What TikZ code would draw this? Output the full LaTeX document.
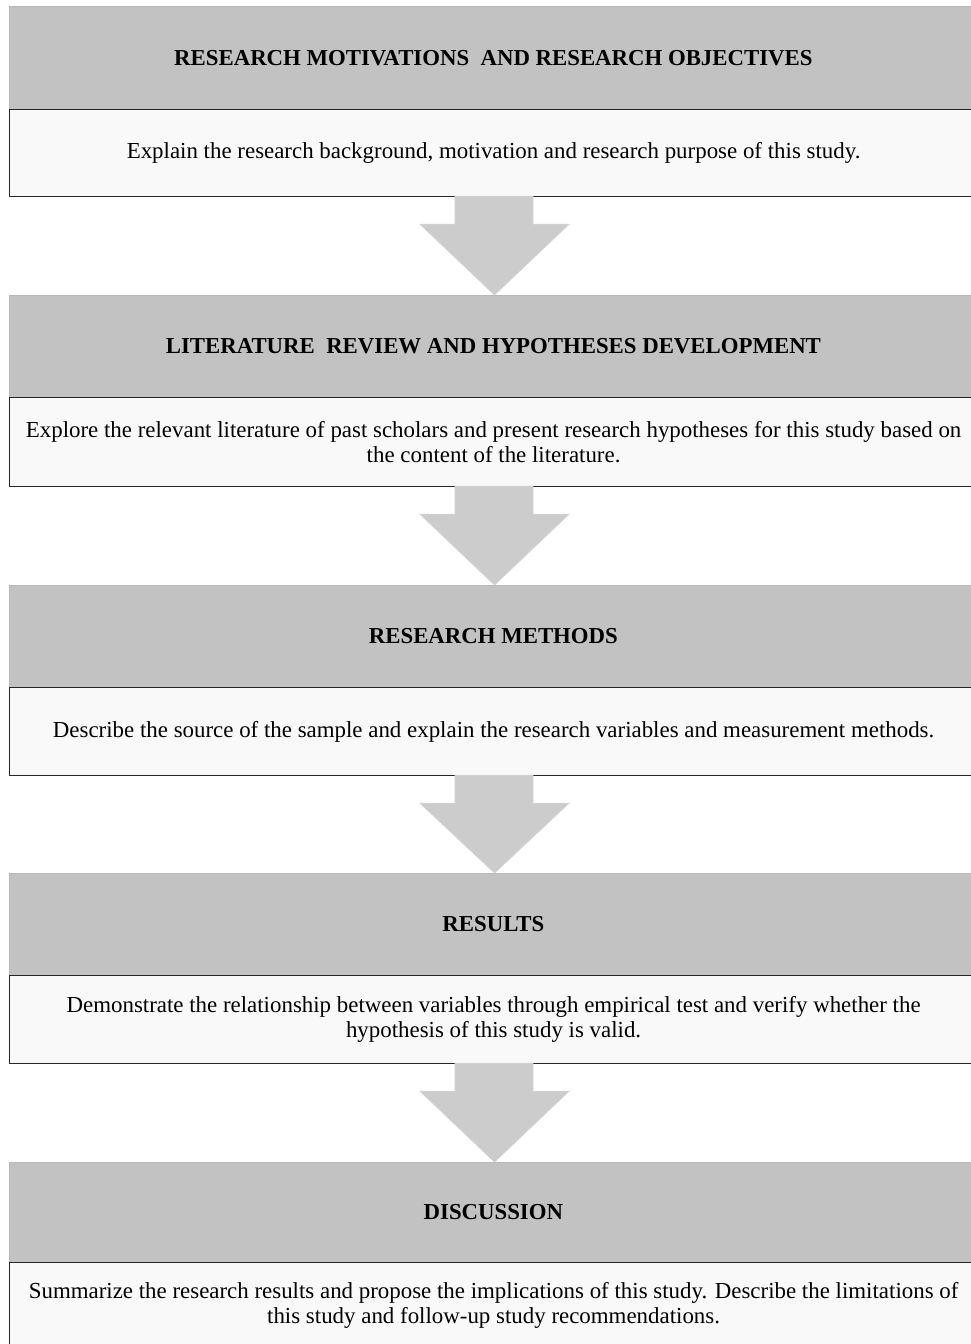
\documentclass[tikz,border=0pt]{standalone}
\usepackage{fontspec}
\setmainfont{Liberation Serif}
\usetikzlibrary{calc}
\definecolor{hdrgray}{HTML}{C2C2C2}
\definecolor{bodyfill}{HTML}{F9F9F9}
\definecolor{arrowgray}{HTML}{CCCCCC}
\definecolor{arrowedge}{HTML}{D4D4D4}
\newcommand\blockarr[2]{%
  \draw[blockarrow] ($(#1.south west)+(446,-1)$) -- ($(#1.south west)+(446,27)$)
    -- ($(#1.south west)+(411,27)$) -- ($(#2.north west)+(485.5,0)$)
    -- ($(#1.south west)+(560,27)$) -- ($(#1.south west)+(524,27)$)
    -- ($(#1.south west)+(524,-1)$) -- cycle;}
\begin{document}
\begin{tikzpicture}[x=1pt,y=-1pt,
  hdr/.style={draw=black!28, fill=hdrgray, line width=0.8pt, anchor=north west,
    minimum width=968pt, inner sep=0pt,
    font=\fontsize{22.8}{25}\selectfont\bfseries},
  bodybox/.style={draw=black!85, fill=bodyfill, line width=1.2pt, anchor=north west,
    minimum width=968pt, inner sep=0pt, align=center,
    font=\fontsize{22.9}{25}\selectfont},
  blockarrow/.style={fill=arrowgray, draw=arrowedge, line width=0.8pt}]
\useasboundingbox (0,0) rectangle (970,1344);
\fill[white] (0,0) rectangle (970,1344);

\node[hdr, minimum height=103pt] (h1) at (9,6) {RESEARCH MOTIVATIONS\ \ AND RESEARCH OBJECTIVES};
\node[bodybox, minimum height=87pt] (b1) at (9,109) {Explain the research background, motivation and research purpose of this study.};

\node[hdr, minimum height=102pt] (h2) at (9,295) {LITERATURE\ \ REVIEW AND HYPOTHESES DEVELOPMENT};
\node[bodybox, minimum height=89pt] (b2) at (9,397) {Explore the relevant literature of past scholars and present research hypotheses for this study based on\\the content of the literature.};

\node[hdr, minimum height=102pt] (h3) at (9,585) {RESEARCH METHODS};
\node[bodybox, minimum height=88pt] (b3) at (9,687) {Describe the source of the sample and explain the research variables and measurement methods.};

\node[hdr, minimum height=102pt] (h4) at (9,873) {RESULTS};
\node[bodybox, minimum height=88pt] (b4) at (9,975) {Demonstrate the relationship between variables through empirical test and verify whether the\\hypothesis of this study is valid.};

\node[hdr, minimum height=100pt] (h5) at (9,1162) {DISCUSSION};
\node[bodybox, minimum height=86pt] (b5) at (9,1262) {Summarize the research results and propose the implications of this study. Describe the limitations of\\this study and follow-up study recommendations.};

\blockarr{b1}{h2}
\blockarr{b2}{h3}
\blockarr{b3}{h4}
\blockarr{b4}{h5}
\end{tikzpicture}
\end{document}
